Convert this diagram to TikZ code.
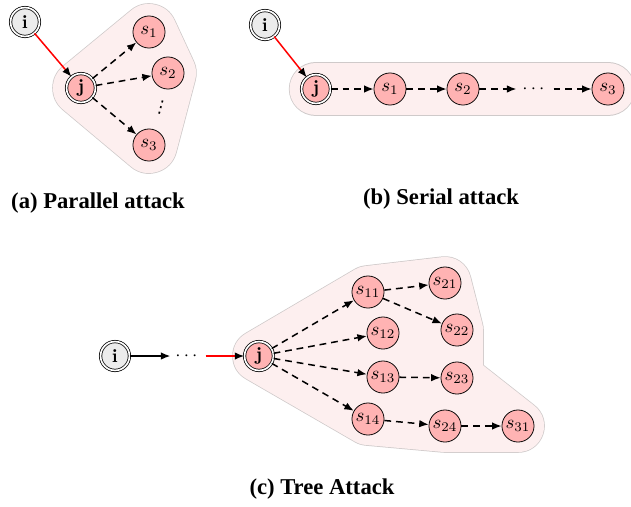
\documentclass[tikz,border=0pt]{standalone}
\usepackage{fontspec}
\usepackage{amsmath}
\usetikzlibrary{arrows.meta,backgrounds}
\newfontfamily\capfont{Liberation Serif}
\newfontfamily\dotsfont{DejaVu Sans}
\definecolor{nodepink}{HTML}{FFB3B3}
\definecolor{hullpink}{HTML}{FDEFEF}
\definecolor{hullgray}{HTML}{CFCACA}
\definecolor{srcgray}{HTML}{ECECEC}
\tikzstyle{snode} = [draw=black, fill=nodepink, circle, minimum size=17pt, inner sep=0pt]
\tikzstyle{jnode} = [snode, double, double distance=0.9pt, minimum size=15.3pt]
\tikzstyle{inode} = [jnode, fill=srcgray]
\tikzstyle{hopedge} = [thick, dash pattern=on 3.6pt off 2.6pt, -{Latex[length=5pt,width=4pt]}]
\tikzstyle{attackedge} = [thick, red, -{Latex[length=5pt,width=4pt,color=black]}]
\tikzstyle{hullline} = [draw=hullgray, line join=round, line cap=round]
\tikzstyle{hullfill} = [draw=hullpink, fill=hullpink, line join=round, line cap=round]
\tikzstyle{subcaption} = [font=\capfont\bfseries\fontsize{12}{14}\selectfont]

\begin{document}
\begin{tikzpicture}[x=0.53pt, y=-0.53pt]
\useasboundingbox (0,0) rectangle (631,506);

% (a) parallel attack
\node[inode] (ia) at (25,22) {\textbf{i}};
\node[jnode] (ja) at (81,88) {\textbf{j}};
\node[snode] (s1a) at (149,32) {$s_1$};
\node[snode] (s2a) at (168,73) {$s_2$};
\node[snode] (s3a) at (149,145) {$s_3$};
\node[rotate=-15, font=\dotsfont\small] (vdotsa) at (161,108) {⋮};
\draw[attackedge] (ia) -- (ja);
\draw[hopedge] (ja) -- (s1a);
\draw[hopedge] (ja) -- (s2a);
\draw[hopedge] (ja) -- (s3a);
\begin{scope}[on background layer]
\draw[hullline, line width=30.5pt] (ja.center) -- (s1a.center) -- (s2a.center) -- (s3a.center) -- cycle;
\filldraw[hullfill, line width=29.7pt] (ja.center) -- (s1a.center) -- (s2a.center) -- (s3a.center) -- cycle;
\end{scope}
\node[subcaption] (capa) at (98,203) {(a) Parallel attack};

% (b) serial attack
\node[inode] (ib) at (265,25) {\textbf{i}};
\node[jnode] (jb) at (316,89) {\textbf{j}};
\node[snode] (s1b) at (390,89) {$s_1$};
\node[snode] (s2b) at (463,89) {$s_2$};
\node[inner xsep=3pt] (dotsb) at (535,89) {$\cdots$};
\node[snode] (s3b) at (608,89) {$s_3$};
\draw[attackedge] (ib) -- (jb);
\draw[hopedge] (jb) -- (s1b);
\draw[hopedge] (s1b) -- (s2b);
\draw[hopedge] (s2b) -- (dotsb);
\draw[hopedge] (dotsb) -- (s3b);
\begin{scope}[on background layer]
\draw[hullline, line width=28.8pt] (jb.center) -- (s3b.center);
\draw[hullfill, line width=28pt] (jb.center) -- (s3b.center);
\end{scope}
\node[subcaption] (capb) at (441,199) {(b) Serial attack};

% (c) tree attack
\node[inode] (ic) at (115,356) {\textbf{i}};
\node[inner xsep=2.5pt] (dotsc) at (188,356) {$\cdots$};
\node[jnode] (jc) at (259,356) {\textbf{j}};
\node[snode] (s11) at (368,292) {$s_{11}$};
\node[snode] (s12) at (383,333) {$s_{12}$};
\node[snode] (s13) at (383,377) {$s_{13}$};
\node[snode] (s14) at (368,419) {$s_{14}$};
\node[snode] (s21) at (445,283) {$s_{21}$};
\node[snode] (s22) at (457,330) {$s_{22}$};
\node[snode] (s23) at (457,378) {$s_{23}$};
\node[snode] (s24) at (445,426) {$s_{24}$};
\node[snode] (s31) at (518,426) {$s_{31}$};
\draw[thick, -{Latex[length=5pt,width=4pt]}] (ic) -- (dotsc);
\draw[attackedge] (dotsc) -- (jc);
\foreach \x in {s11,s12,s13,s14}
  \draw[hopedge] (jc) -- (\x);
\draw[hopedge] (s11) -- (s21);
\draw[hopedge] (s11) -- (s22);
\draw[hopedge] (s13) -- (s23);
\draw[hopedge] (s14) -- (s24);
\draw[hopedge] (s24) -- (s31);
\begin{scope}[on background layer]
\draw[hullline, line width=28.4pt] (jc.center) -- (s11.center) -- (s21.center) -- (s22.center) -- (s23.center) -- (s31.center) -- (s24.center) -- (s14.center) -- cycle;
\filldraw[hullfill, line width=27.6pt] (jc.center) -- (s11.center) -- (s21.center) -- (s22.center) -- (s23.center) -- (s31.center) -- (s24.center) -- (s14.center) -- cycle;
\end{scope}
\node[subcaption] (capc) at (322,489) {(c) Tree Attack};
\end{tikzpicture}
\end{document}
